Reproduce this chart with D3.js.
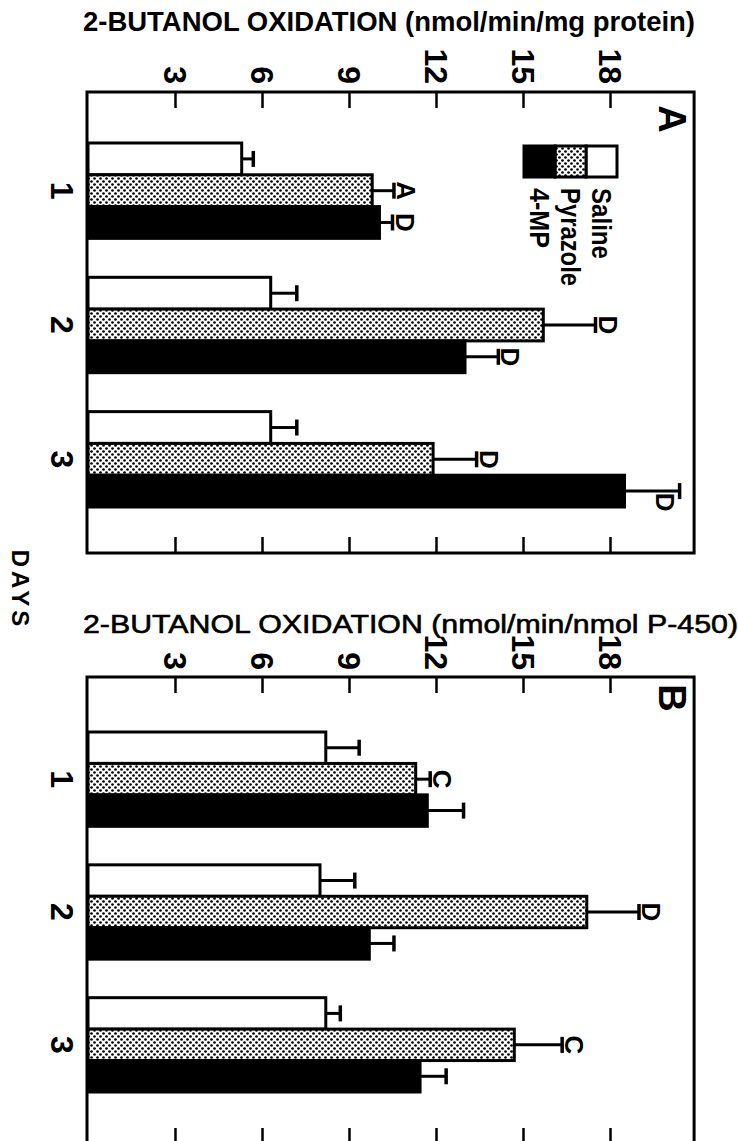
<!DOCTYPE html>
<html><head><meta charset="utf-8">
<script src="https://cdn.jsdelivr.net/npm/d3@7"></script>
<style>body{margin:0;background:#fff} svg{display:block}</style>
</head><body>
<svg id="c" width="738" height="1141"></svg>
<script>
// ---------- data ----------
const days = ["1","2","3"];
const seriesNames = ["Saline","Pyrazole","4-MP"];
const tickValues = [3,6,9,12,15,18];
const tickLabels = ["3","6","9","12","15","18"];
const panelLabels = ["A","B"];
const titles = ["2-BUTANOL OXIDATION (nmol/min/mg protein)", "2-BUTANOL OXIDATION (nmol/min/nmol P-450)"];
const axisLabel = "DAYS";

// Panel A (nmol/min/mg protein)
const salineA   = [5.3, 6.3, 6.3];
const pyrazoleA = [9.8, 15.7, 11.9];
const mpA       = [10.05, 13.0, 18.5];
const salineErrA   = [0.4, 0.9, 0.9];
const pyrazoleErrA = [0.75, 1.8, 1.5];
const mpErrA       = [0.45, 1.15, 1.9];
const salineSigA   = ["", "", ""];
const pyrazoleSigA = ["A", "D", "D"];
const mpSigA       = ["D", "D", "D"];

// Panel B (nmol/min/nmol P-450)
const salineB   = [8.2, 8.0, 8.2];
const pyrazoleB = [11.3, 17.2, 14.7];
const mpB       = [11.7, 9.7, 11.45];
const salineErrB   = [1.15, 1.2, 0.5];
const pyrazoleErrB = [0.5, 1.8, 1.65];
const mpErrB       = [1.25, 0.85, 0.9];
const salineSigB   = ["", "", ""];
const pyrazoleSigB = ["C", "D", "C"];
const mpSigB       = ["", "", ""];

// ---------- build ----------
function rows(vals, errs, sigs){
  const out = [];
  days.forEach((d,i)=>{
    seriesNames.forEach((s,j)=>{
      out.push({day:d, series:s, v:vals[j][i], e:errs[j][i], sig:sigs[j][i]});
    });
  });
  return out;
}
const panels = [
  {label: panelLabels[0], title: titles[0],
   data: rows([salineA,pyrazoleA,mpA],[salineErrA,pyrazoleErrA,mpErrA],[salineSigA,pyrazoleSigA,mpSigA]),
   top:92, bottom:553, bandTop:143, bandBottom:507, titleY:31, titleLen:612, titleBold:true, tickY:84, letterY:119, legend:true},
  {label: panelLabels[1], title: titles[1],
   data: rows([salineB,pyrazoleB,mpB],[salineErrB,pyrazoleErrB,mpErrB],[salineSigB,pyrazoleSigB,mpSigB]),
   top:677, bottom:1144, bandTop:732, bandBottom:1092, titleY:633, titleLen:655, titleBold:false, tickY:670, letterY:698, legend:false}
];

const svg = d3.select("#c");
const FONT = "'Liberation Sans', Arial, sans-serif";

const defs = svg.append("defs");
const pat = defs.append("pattern").attr("id","dots").attr("patternUnits","userSpaceOnUse")
  .attr("width",6).attr("height",6);
pat.append("rect").attr("width",6).attr("height",6).attr("fill","#fff");
pat.append("circle").attr("cx",1.5).attr("cy",1.5).attr("r",1.35).attr("fill","#000");
pat.append("circle").attr("cx",4.5).attr("cy",4.5).attr("r",1.35).attr("fill","#000");

const fills = d3.scaleOrdinal().domain(seriesNames).range(["#fff","url(#dots)","#000"]);

const x = d3.scaleLinear().domain([0,21]).range([88,697]);
const xMax = 20.9;

panels.forEach(p=>{
  const g = svg.append("g");
  // title
  g.append("text").attr("x",83).attr("y",p.titleY).text(p.title)
    .attr("font-family",FONT).attr("font-size",p.titleBold?28:26)
    .attr("font-weight",p.titleBold?"bold":"normal")
    .attr("stroke",p.titleBold?"none":"#000").attr("stroke-width",0.6)
    .attr("textLength",p.titleLen).attr("lengthAdjust","spacingAndGlyphs");

  // tick labels rotated
  g.selectAll(".tl").data(tickValues).join("text")
    .attr("transform",d=>`translate(${x(d)},${p.tickY}) rotate(90)`)
    .attr("text-anchor","end").attr("dy","0.35em")
    .attr("font-family",FONT).attr("font-size",32).attr("font-weight","bold")
    .text((d,i)=>tickLabels[i]);

  // ticks via d3 axes
  const topAxis = d3.axisBottom(x).tickValues(tickValues).tickSize(16).tickFormat("");
  const botAxis = d3.axisTop(x).tickValues(tickValues).tickSize(16).tickFormat("");
  const ta = g.append("g").attr("transform",`translate(0,${p.top})`).call(topAxis);
  const ba = g.append("g").attr("transform",`translate(0,${p.bottom})`).call(botAxis);
  [ta,ba].forEach(a=>{ a.select(".domain").remove(); a.selectAll("line").attr("stroke","#000").attr("stroke-width",2.5); });

  const y0 = d3.scaleBand().domain(days).range([p.bandTop,p.bandBottom]).paddingInner(0.29).paddingOuter(0);
  const y1 = d3.scaleBand().domain(seriesNames).range([0,y0.bandwidth()]);

  // day labels
  g.selectAll(".dl").data(days).join("text")
    .attr("transform",d=>`translate(62,${y0(d)+y0.bandwidth()/2}) rotate(90)`)
    .attr("text-anchor","middle").attr("dy","0.35em")
    .attr("font-family",FONT).attr("font-size",32).attr("font-weight","bold")
    .text(d=>d);

  // bars
  g.selectAll(".bar").data(p.data).join("rect")
    .attr("x",x(0)).attr("y",d=>y0(d.day)+y1(d.series))
    .attr("width",d=>x(d.v)-x(0)).attr("height",y1.bandwidth())
    .attr("fill",d=>fills(d.series)).attr("stroke","#000").attr("stroke-width",3);

  // error bars
  const eb = g.selectAll(".eb").data(p.data).join("g");
  eb.append("line")
    .attr("x1",d=>x(d.v)).attr("x2",d=>x(d.v+d.e))
    .attr("y1",d=>y0(d.day)+y1(d.series)+y1.bandwidth()/2)
    .attr("y2",d=>y0(d.day)+y1(d.series)+y1.bandwidth()/2)
    .attr("stroke","#000").attr("stroke-width",3);
  eb.append("line")
    .attr("x1",d=>x(d.v+d.e)).attr("x2",d=>x(d.v+d.e))
    .attr("y1",d=>y0(d.day)+y1(d.series)+y1.bandwidth()/2-8)
    .attr("y2",d=>y0(d.day)+y1(d.series)+y1.bandwidth()/2+8)
    .attr("stroke","#000").attr("stroke-width",3.5);

  // significance letters (baseline just right of the cap, glyph extends rightwards)
  const right = x(xMax);
  g.selectAll(".sig").data(p.data.filter(d=>d.sig)).join("text")
    .attr("transform",d=>{
      const cx = x(d.v+d.e);
      const cy = y0(d.day)+y1(d.series)+y1.bandwidth()/2;
      let ax = cx+3, ay = cy;
      if (ax+20 > right-3){ ax = cx-24; ay = cy+11; }
      return `translate(${ax},${ay}) rotate(90)`;
    })
    .attr("text-anchor","middle")
    .attr("font-family",FONT).attr("font-size",26).attr("font-weight","bold")
    .text(d=>d.sig);

  // frame
  g.append("rect").attr("x",x(0)-1).attr("y",p.top).attr("width",x(xMax)-x(0)+1).attr("height",p.bottom-p.top)
    .attr("fill","none").attr("stroke","#000").attr("stroke-width",3);

  // panel letter
  g.append("text").attr("transform",`translate(672,${p.letterY}) rotate(90)`)
    .attr("text-anchor","middle").attr("dy","0.35em")
    .attr("font-family",FONT).attr("font-size",38).attr("font-weight","bold").text(p.label);

  // legend
  if (p.legend){
    const cell = 31, lx = 617, ly = 146;
    const lg = g.append("g");
    lg.selectAll("rect").data(seriesNames).join("rect")
      .attr("x",(d,i)=>lx-(i+1)*cell).attr("y",ly).attr("width",cell).attr("height",cell)
      .attr("fill",d=>fills(d)).attr("stroke","#000").attr("stroke-width",3);
    const lens = {"Saline":71,"Pyrazole":98,"4-MP":60};
    lg.selectAll("text").data(seriesNames).join("text")
      .attr("transform",(d,i)=>`translate(${lx-(i+0.5)*cell},${ly+42}) rotate(90)`)
      .attr("text-anchor","start").attr("dy","0.35em")
      .attr("font-family",FONT).attr("font-size",28).attr("font-weight","bold")
      .attr("textLength",d=>lens[d]).attr("lengthAdjust","spacingAndGlyphs")
      .text(d=>d);
  }
});

// DAYS label
svg.append("text").attr("transform","translate(20,590) rotate(90)")
  .attr("text-anchor","middle").attr("dy","0.35em")
  .attr("font-family",FONT).attr("font-size",24).attr("font-weight","bold")
  .attr("letter-spacing",4).text(axisLabel);
</script>
</body></html>
